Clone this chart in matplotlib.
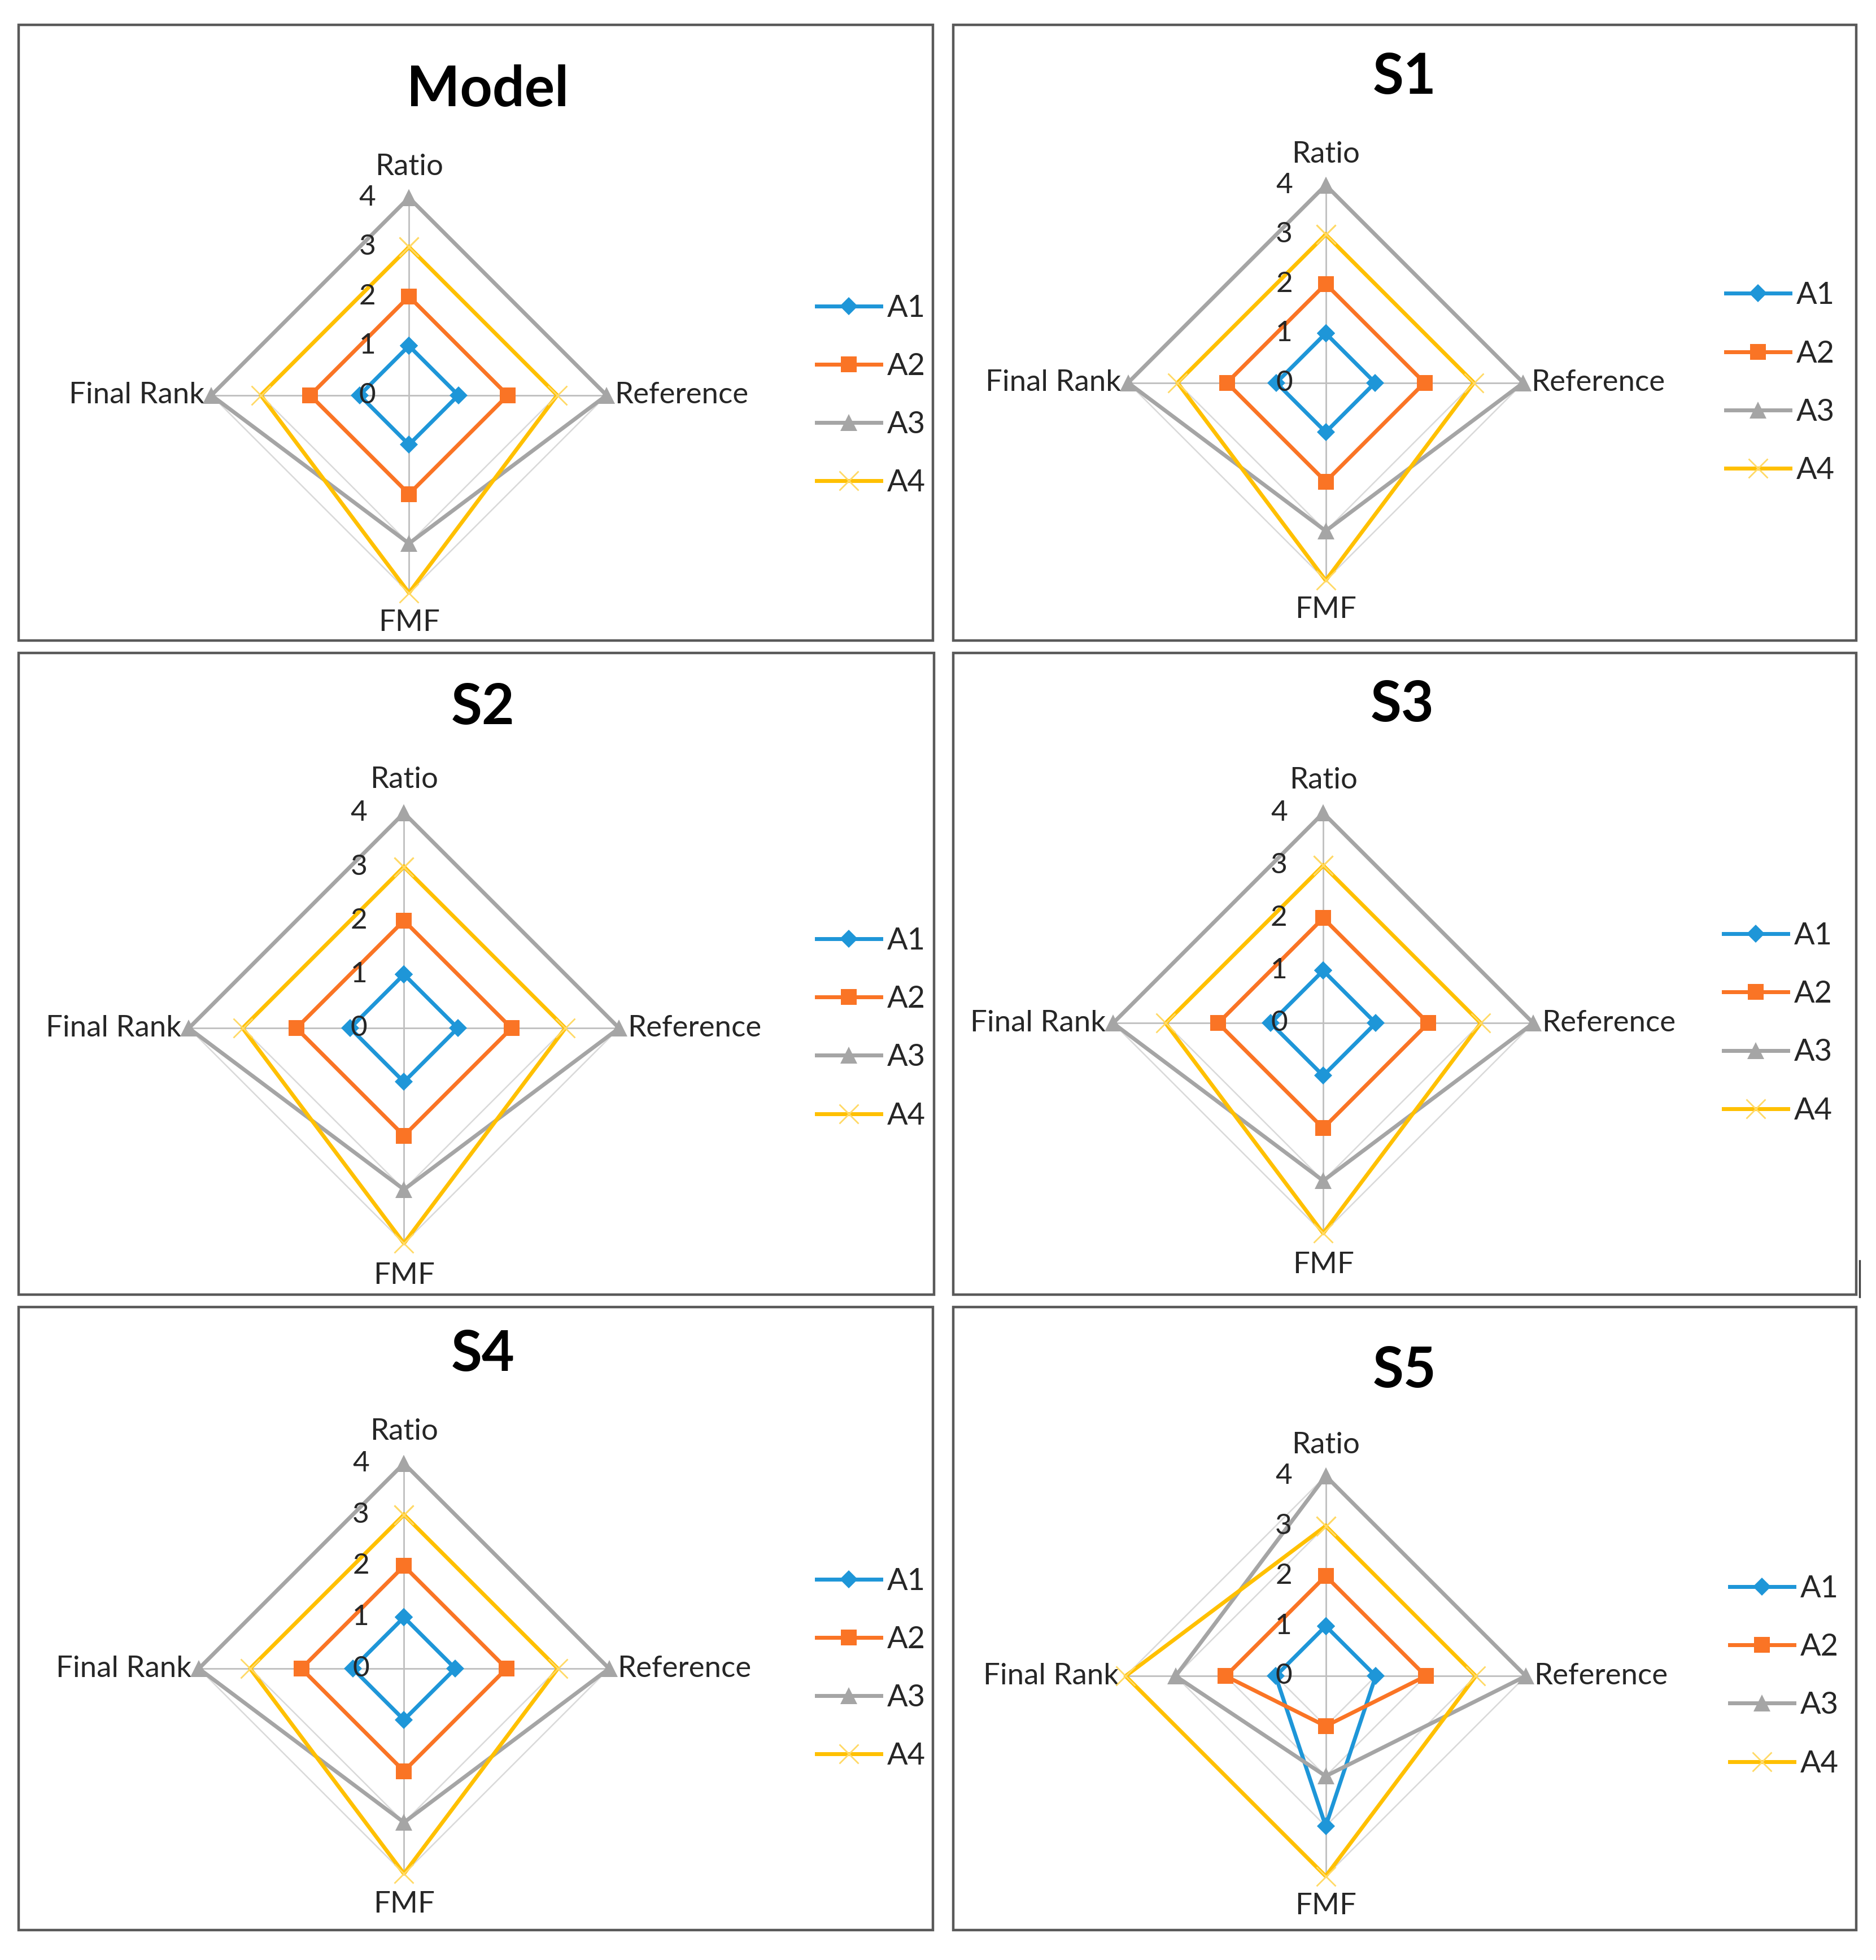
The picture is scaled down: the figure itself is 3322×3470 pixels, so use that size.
import numpy as np
import matplotlib.pyplot as plt
from matplotlib.patches import Rectangle

plt.rcParams['font.family'] = ['Lato', 'DejaVu Sans']

# axes of the radar, clockwise from the top
categories = ['Ratio', 'Reference', 'FMF', 'Final Rank']
series = ['A1', 'A2', 'A3', 'A4']
panel_titles = ['Model', 'S1', 'S2', 'S3', 'S4', 'S5']
tick_labels = ['0', '1', '2', '3', '4']

# values per panel: one row per series (A1..A4), columns follow categories
model_vals = [[1, 1, 1, 1], [2, 2, 2, 2], [4, 4, 3, 4], [3, 3, 4, 3]]
s1_vals = [[1, 1, 1, 1], [2, 2, 2, 2], [4, 4, 3, 4], [3, 3, 4, 3]]
s2_vals = [[1, 1, 1, 1], [2, 2, 2, 2], [4, 4, 3, 4], [3, 3, 4, 3]]
s3_vals = [[1, 1, 1, 1], [2, 2, 2, 2], [4, 4, 3, 4], [3, 3, 4, 3]]
s4_vals = [[1, 1, 1, 1], [2, 2, 2, 2], [4, 4, 3, 4], [3, 3, 4, 3]]
s5_vals = [[1, 1, 3, 1], [2, 2, 1, 2], [4, 4, 2, 3], [3, 3, 4, 4]]
all_vals = [model_vals, s1_vals, s2_vals, s3_vals, s4_vals, s5_vals]

colors = ['#1E96D8', '#FA7425', '#A5A5A5', '#FFC000']
markers = ['D', 's', '^', 'x']
msizes = [8, 10, 11, 12]

# layout on a 1500 x 1567 grid (scaled to the figure)
W, H = 1500.0, 1567.0


def fx(x):
    return x / W


def fy(y):
    return 1 - y / H


# center x, center y, px per unit, title y, box (x0, y0, x1, y1), legend x
layout = [
    (327, 316, 39.5, 72, (15, 20, 746, 512), 653),
    (1060, 306, 39.5, 62, (762, 20, 1484, 512), 1380),
    (323, 822, 43, 566, (15, 522, 747, 1035), 653),
    (1058, 818, 42, 564, (762, 522, 1484, 1035), 1378),
    (323, 1334, 41, 1083, (15, 1045, 746, 1543), 653),
    (1060, 1340, 40, 1096, (762, 1045, 1484, 1543), 1383),
]

fig = plt.figure(figsize=(16.61, 17.35), dpi=200)

angles = np.deg2rad([90, 0, -90, 180])
ring = np.append(angles, angles[0])

for title, vals, (cx, cy, unit, ty, box, lx) in zip(panel_titles, all_vals, layout):
    x0, y0, x1, y1 = box
    fig.add_artist(Rectangle((fx(x0), fy(y1)), fx(x1 - x0), (y1 - y0) / H,
                             transform=fig.transFigure, fill=False,
                             edgecolor='#595959', linewidth=1.6))
    fig.text(fx(cx + 63), fy(ty), title, ha='center', va='center',
             fontsize=36, fontweight='bold')

    ax = fig.add_axes([fx(cx - 5 * unit), fy(cy + 5 * unit),
                       10 * unit / W, 10 * unit / H])
    ax.set_xlim(-5, 5)
    ax.set_ylim(-5, 5)
    ax.axis('off')

    # grid rings and spokes
    for lev in range(1, 5):
        ax.plot(lev * np.cos(ring), lev * np.sin(ring), color='#D9D9D9',
                linewidth=0.9, zorder=1)
    for a in angles:
        ax.plot([0, 4 * np.cos(a)], [0, 4 * np.sin(a)], color='#BFBFBF',
                linewidth=1.0, zorder=1)

    handles = []
    for i, name in enumerate(series):
        v = np.array(vals[i] + [vals[i][0]], dtype=float)
        mec = '#FFD966' if markers[i] == 'x' else colors[i]
        mew = 1.0 if markers[i] == 'x' else 0
        ln, = ax.plot(v * np.cos(ring), v * np.sin(ring), color=colors[i],
                      linewidth=2.5, marker=markers[i], markersize=msizes[i],
                      markerfacecolor=colors[i], markeredgecolor=mec,
                      markeredgewidth=mew, label=name, zorder=2 + i,
                      clip_on=False)
        handles.append(ln)

    for k, t in enumerate(tick_labels):
        ax.text(-0.84, k, t, ha='center', va='center', fontsize=18.5,
                color='#262626', zorder=10)

    ax.text(0, 4.62, categories[0], ha='center', va='center', fontsize=19,
            color='#262626')
    ax.text(4.16, 0, categories[1], ha='left', va='center', fontsize=19,
            color='#262626')
    ax.text(0, -4.6, categories[2], ha='center', va='center', fontsize=19,
            color='#262626')
    ax.text(-4.14, 0, categories[3], ha='right', va='center', fontsize=19,
            color='#262626')

    fig.legend(handles=handles, loc='center left',
               bbox_to_anchor=(fx(lx), fy(cy)), frameon=False,
               borderaxespad=0, borderpad=0, handlelength=2.1,
               handletextpad=0.2, labelspacing=1.0, fontsize=19.5,
               labelcolor='#262626')

# stray tick at the right edge of the S3 frame
fig.add_artist(plt.Line2D([fx(1487), fx(1487)], [fy(1037), fy(1008)],
                          transform=fig.transFigure, color='#404040',
                          linewidth=1.2))

fig.savefig('out.png', dpi=200, facecolor='white')
